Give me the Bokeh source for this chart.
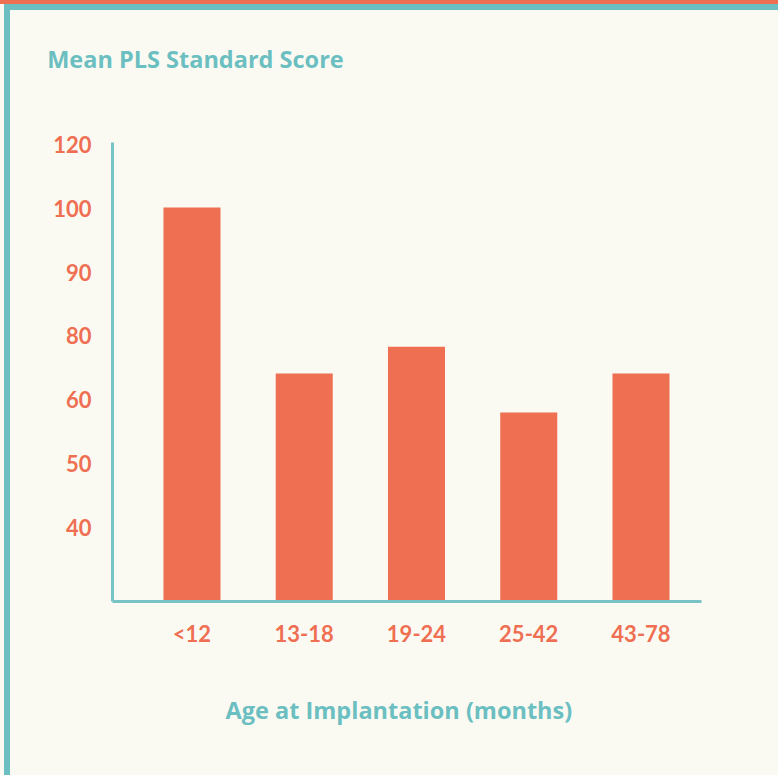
from bokeh.plotting import figure
from bokeh.models import FixedTicker, Range1d, Title, LinearAxis
from bokeh.embed import file_html
from bokeh.resources import INLINE

# ---- data ----
categories = ["<12", "13-18", "19-24", "25-42", "43-78"]
# bar heights on the chart's evenly spaced (linear) axis positions
scores = [90.1, 64.1, 68.3, 58.0, 64.1]
tick_positions = [40, 50, 60, 70, 80, 90, 100]
tick_labels = ["40", "50", "60", "80", "90", "100", "120"]

ORANGE = "#EF6F52"
TEAL = "#6CBFC1"
AXIS = "#78C3C6"
BG = "#FAFAF3"
FONT = "Lato"
TFONT = "Open Sans"

x = list(range(len(categories)))

p = figure(width=768, height=765, output_backend="svg", toolbar_location=None,
           x_range=Range1d(-0.708, 4.539), y_range=Range1d(28.4, 100.3),
           min_border_left=102, min_border_right=77, min_border_top=132,
           min_border_bottom=174, background_fill_color=BG, border_fill_color=BG,
           outline_line_color=None)
p.title.visible = False

p.vbar(x=x, top=scores, bottom=0, width=0.508, color=ORANGE, line_color=None)

p.xgrid.visible = False
p.ygrid.visible = False

ya = p.yaxis[0]
ya.ticker = FixedTicker(ticks=tick_positions)
ya.major_label_overrides = {t: l for t, l in zip(tick_positions, tick_labels)}
xa = p.xaxis[0]
xa.ticker = FixedTicker(ticks=x)
xa.major_label_overrides = {i: c for i, c in zip(x, categories)}

for ax in (xa, ya):
    ax.axis_line_color = AXIS
    ax.axis_line_width = 3
    ax.major_tick_line_color = None
    ax.minor_tick_line_color = None
    ax.major_tick_out = 0
    ax.major_tick_in = 0
    ax.major_label_text_color = ORANGE
    ax.major_label_text_font = FONT
    ax.major_label_text_font_style = "bold"
    ax.major_label_text_font_size = "22px"
ya.major_label_standoff = 21
xa.major_label_standoff = 18

# chart heading, drawn as a label-only axis above the plot
TITLE_X = 0.031
top = LinearAxis(ticker=FixedTicker(ticks=[TITLE_X]),
                 major_label_overrides={TITLE_X: "Mean PLS Standard Score"},
                 axis_line_color=None, major_tick_line_color=None,
                 minor_tick_line_color=None, major_tick_out=0, major_tick_in=0,
                 major_label_standoff=68, major_label_text_color=TEAL,
                 major_label_text_font=TFONT, major_label_text_font_style="bold",
                 major_label_text_font_size="23.5px")
p.add_layout(top, "above")

p.add_layout(Title(text="Age at Implantation (months)", align="left", offset=113,
                   standoff=84, text_color=TEAL, text_font=TFONT,
                   text_font_style="bold", text_font_size="23.5px"), "below")

html = file_html(p, INLINE)
css = ("<style>html{margin:0 !important;padding:0 !important;background:%s !important;"
       "border-top:4px solid %s !important;}"
       "body{margin:0 0 0 4px !important;padding:0 !important;background:%s !important;"
       "border-top:6px solid %s !important;border-left:6px solid %s !important;"
       "overflow:hidden;}</style>" % (BG, ORANGE, BG, TEAL, TEAL))
html = html.replace("</head>", css + "</head>", 1)
open("out.html", "w").write(html)
